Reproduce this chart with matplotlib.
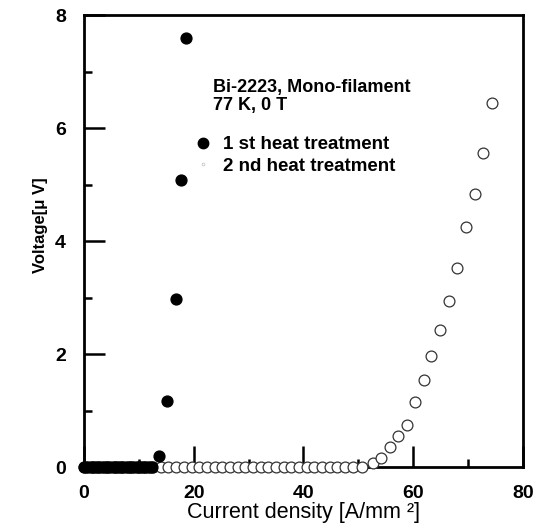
import matplotlib
matplotlib.use("Agg")
import matplotlib.pyplot as plt
from matplotlib.lines import Line2D
from matplotlib.ticker import MultipleLocator

plt.rcParams['font.family'] = ['Liberation Sans', 'DejaVu Sans']

# 1st heat treatment (filled circles)
first_x = [0.0, 0.4, 0.8, 1.2, 1.6, 2.0, 2.4, 2.8, 3.2, 3.6, 4.0, 4.4, 4.8, 5.2, 5.6,
           6.0, 6.4, 6.8, 7.2, 7.6, 8.0, 8.4, 8.8, 9.2, 9.6, 10.0, 10.4, 10.8, 11.2,
           11.6, 12.0, 12.4, 13.7, 15.2, 16.8, 17.7, 18.6]
first_y = [0.0] * 32 + [0.19, 1.17, 2.97, 5.08, 7.59]

# 2nd heat treatment (open circles)
second_x = [0.0, 1.4, 2.8, 4.2, 5.6, 7.0, 8.4, 9.8, 11.2, 12.6, 14.0, 15.4, 16.8,
            18.2, 19.6, 21.0, 22.4, 23.8, 25.2, 26.6, 28.0, 29.4, 30.8, 32.2, 33.6,
            35.0, 36.4, 37.8, 39.2, 40.6, 42.0, 43.4, 44.8, 46.2, 47.6, 49.0, 50.6,
            52.6, 54.2, 55.7, 57.3, 58.8, 60.4, 61.9, 63.2, 64.9, 66.5, 68.0,
            69.7, 71.3, 72.7, 74.4]
second_y = [0.0] * 37 + [0.07, 0.16, 0.36, 0.55, 0.74, 1.15, 1.54, 1.96, 2.43,
                         2.94, 3.53, 4.25, 4.84, 5.55, 6.45]

x_ticks = [0, 20, 40, 60, 80]
y_ticks = [0, 2, 4, 6, 8]
x_label = "Current density [A/mm ²]"
y_label = "Voltage[μ V]"
labels = ["1 st heat treatment", "2 nd heat treatment"]
annotation = "Bi-2223, Mono-filament\n77 K, 0 T"

fig = plt.figure(figsize=(5.46, 5.29), dpi=100)
ax = fig.add_axes([0.1538, 0.1172, 0.804, 0.8544])

ax.plot(second_x, second_y, linestyle='none', marker='o', markersize=7.8,
        markerfacecolor='white', markeredgecolor='#333333', markeredgewidth=0.9,
        clip_on=False, zorder=3)
ax.plot(first_x, first_y, linestyle='none', marker='o', markersize=7.8,
        markerfacecolor='black', markeredgecolor='black', clip_on=False, zorder=4)

ax.set_xlim(0, 80)
ax.set_ylim(0, 8)
ax.set_xticks(x_ticks)
ax.set_yticks(y_ticks)
ax.xaxis.set_minor_locator(MultipleLocator(10))
ax.yaxis.set_minor_locator(MultipleLocator(1))
ax.tick_params(which='both', direction='in', top=False, right=False, width=1.8)
ax.tick_params(which='major', length=15, pad=13, labelsize=14)
ax.tick_params(which='minor', length=6)
for lab in ax.get_xticklabels() + ax.get_yticklabels():
    lab.set_fontweight('bold')
for s in ax.spines.values():
    s.set_linewidth(2)

ax.set_xlabel(x_label, fontsize=15.5, labelpad=0)
ax.set_ylabel(y_label, fontsize=12, fontweight='bold')
ax.yaxis.set_label_coords(-0.083, 0.535)

ax.text(0.293, 0.858, annotation, transform=ax.transAxes, fontsize=13,
        fontweight='bold', va='top', ha='left', linespacing=1.05)

handles = [
    Line2D([], [], linestyle='none', marker='o', markersize=7.5, markerfacecolor='black',
           markeredgecolor='black'),
    Line2D([], [], linestyle='none', marker='o', markersize=2.0, markerfacecolor='white',
           markeredgecolor='#bbbbbb', markeredgewidth=0.5),
]
ax.legend(handles, labels, loc='upper left', bbox_to_anchor=(0.258, 0.732),
          frameon=False, handlelength=0.6, handletextpad=0.75, labelspacing=0.22,
          borderaxespad=0, borderpad=0, prop={'weight': 'bold', 'size': 13.5})

fig.savefig("out.png", dpi=100)
